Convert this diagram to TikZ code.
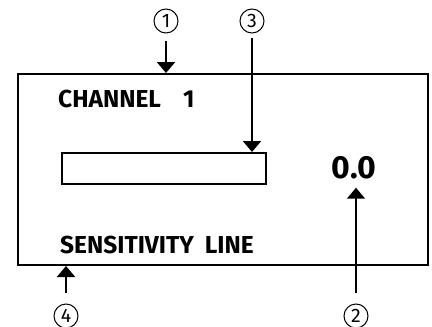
\documentclass[tikz,border=0pt]{standalone}
\usepackage{fontspec}
\setmainfont{Fira Sans}
\usetikzlibrary{arrows.meta}
\begin{document}
\begin{tikzpicture}[x=1pt,y=-1pt,
  frame/.style={draw,line width=2pt,inner sep=0pt},
  label/.style={inner sep=0pt,anchor=base west,font=\bfseries\fontsize{24.5}{28}\selectfont},
  callout/.style={circle,draw,line width=1pt,inner sep=0pt,minimum size=24pt,font=\fontsize{19.5}{22}\selectfont},
  arr/.style={line width=2pt,-{Triangle[width=18pt,length=11pt]}}]
  \useasboundingbox (0,0) rectangle (432,327);
  % display frame and level bar
  \node[frame,minimum width=410pt,minimum height=191pt] (box) at (223,169.5) {};
  \node[frame,minimum width=204pt,minimum height=31pt] (bar) at (164,168.5) {};
  % texts shown on the display
  \node[label] (ch) at (58,107) {CHANNEL\hspace{0.9em}1};
  \node[label] (sens) at (60,253) {SENSITIVITY\hspace{0.45em}LINE};
  \node[inner sep=0pt,anchor=base,font=\bfseries\fontsize{32}{36}\selectfont] (val) at (354,178) {0.0};
  % numbered callouts
  \node[callout] (n1) at (166,21) {1};
  \node[callout] (n3) at (252,21) {3};
  \node[callout] (n2) at (356,316) {2};
  \node[callout] (n4) at (66,316) {4};
  % callout arrows
  \draw[arr] ([yshift=-7pt]n1.south) -- (n1.south |- box.north);
  \draw[arr] ([yshift=-4pt]n3.south) -- (n3.south |- bar.north);
  \draw[arr] ([yshift=11pt]n2.north) -- ([yshift=-9pt]n2.north |- val.south);
  \draw[arr] ([yshift=11pt]n4.north) -- (n4.north |- box.south);
\end{tikzpicture}
\end{document}
